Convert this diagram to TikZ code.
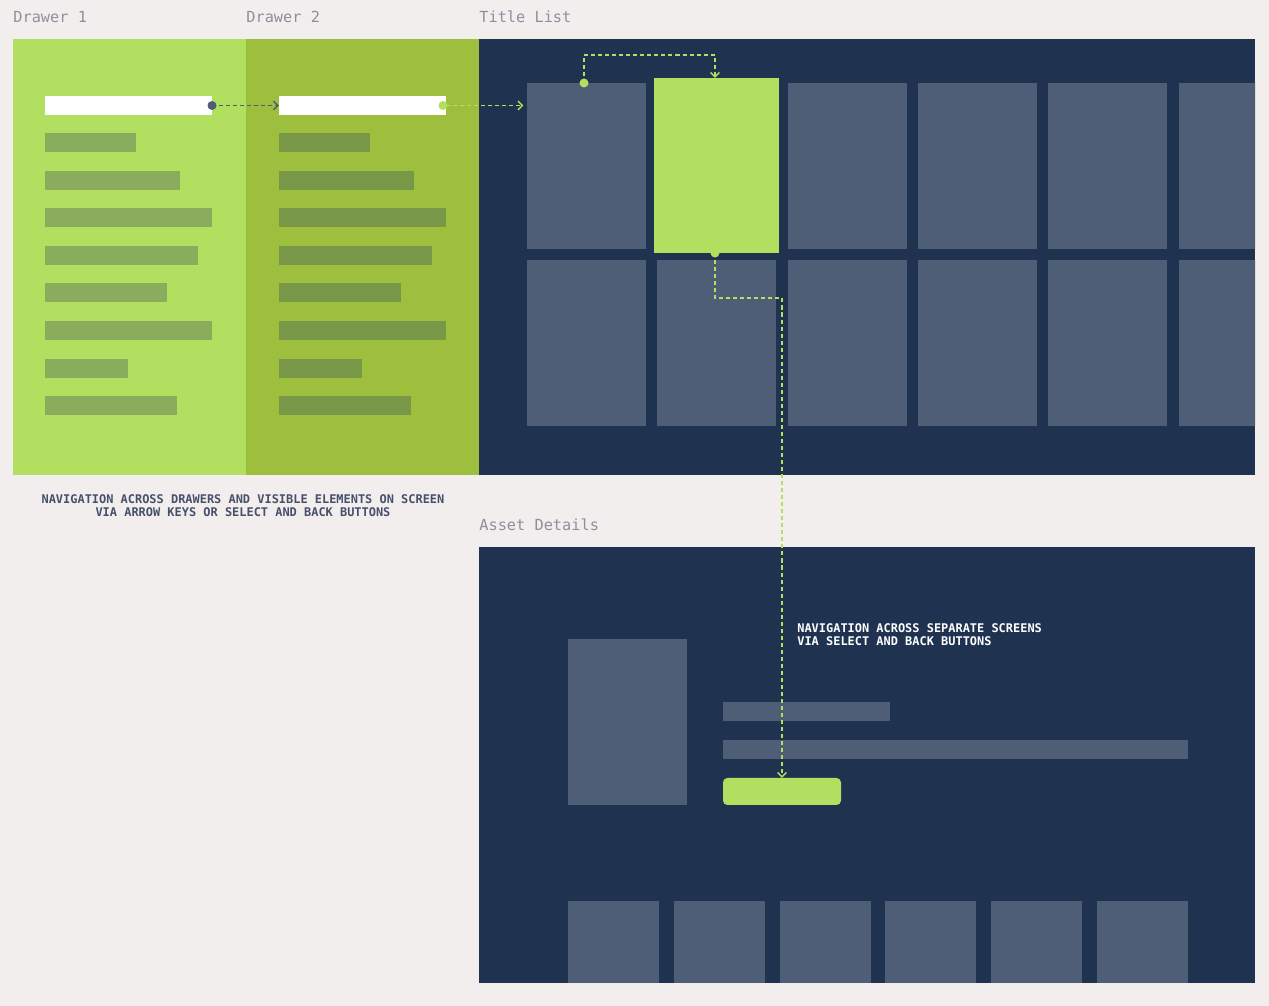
\documentclass[tikz,border=0pt]{standalone}
\usepackage{fontspec}
\setmonofont{DejaVu Sans Mono}
\usetikzlibrary{arrows.meta}
\definecolor{bg}{HTML}{F3EEEE}
\definecolor{lime}{HTML}{B3DF60}
\definecolor{olive}{HTML}{9DBF3D}
\definecolor{navy}{HTML}{1F3351}
\definecolor{slate}{HTML}{4E5E77}
\definecolor{bara}{HTML}{89AD5C}
\definecolor{barb}{HTML}{789747}
\definecolor{labelgray}{HTML}{8F8F9C}
\definecolor{capgray}{HTML}{46506A}
\tikzset{
  box/.style 2 args={draw=none, inner sep=0pt, outer sep=0pt, minimum width=#1*0.02cm, minimum height=#2*0.02cm},
  tile/.style={box={119}{166}, fill=slate},
  bar/.style={box={#1}{19}, anchor=west},
  lbl/.style={font=\ttfamily\fontsize{8.7}{10}\selectfont, text=labelgray, anchor=base west, inner sep=0pt},
  captext/.style={font=\ttfamily\bfseries\fontsize{6.8}{7.4}\selectfont, inner sep=0pt},
  nav/.style={dash pattern=on 2.3pt off 1.7pt, line width=0.8pt, -{Straight Barb[length=2.6pt,width=5pt]}},
  dotsize/.style={radius=0.09cm}
}
\begin{document}
\begin{tikzpicture}[x=0.02cm, y=-0.02cm]
  \fill[bg] (0,0) rectangle (1269,1006);

  % panels
  \node[box={233}{436}, fill=lime] (d1) at (129.5,257) {};
  \node[box={233}{436}, fill=olive] (d2) at (362.5,257) {};
  \node[box={776}{436}, fill=navy] (tl) at (867,257) {};
  \node[box={776}{436}, fill=navy] (ad) at (867,765) {};

  \node[lbl] (ld1) at (13,22.5) {Drawer 1};
  \node[lbl] (ld2) at (246,22.5) {Drawer 2};
  \node[lbl] (ltl) at (479,22.5) {Title List};
  \node[lbl] (lad) at (479,530.5) {Asset Details};

  % drawer entries
  \node[box={167}{19}, fill=white] (w1) at (128.5,105.5) {};
  \node[box={167}{19}, fill=white] (w2) at (362.5,105.5) {};
  \foreach \w [count=\k from 0] in {91,135,167,153,122,167,83,132} {
    \node[bar=\w, fill=bara] (ra\k) at (45,142.5+37.6*\k) {};
    \node[bar=\w, fill=barb] (rb\k) at (279,142.5+37.6*\k) {};
  }

  % title grid
  \begin{scope}
    \clip (tl.north west) rectangle (tl.south east);
    \foreach \i in {0,...,5} {
      \node[tile] (ta\i) at (586.5+130.3*\i,166) {};
      \node[tile] (tb\i) at (586.5+130.3*\i,343.5) {};
    }
  \end{scope}
  \node[box={125}{175}, fill=lime] (sel) at (716.5,165.5) {};

  % asset details
  \node[tile] (poster) at (627.5,722.5) {};
  \node[box={167}{19}, fill=slate] (ia) at (806.5,711.5) {};
  \node[box={465}{19}, fill=slate] (ib) at (955.5,749.5) {};
  \node[box={118}{27}, fill=lime, rounded corners=2.5pt] (btn) at (782,791.5) {};
  \foreach \i in {0,...,5}
    \node[box={91}{82}, fill=slate] (bt\i) at (613.5+105.8*\i,942) {};

  % connectors
  \draw[nav, slate] (w1.east) -- (w2.west);
  \fill[slate] (w1.east) circle[dotsize];
  \draw[nav, lime, shorten >=2pt] (w2.east) -- (w2.east -| ta0.west);
  \fill[lime] ([xshift=-0.06cm]w2.east) circle[dotsize];
  \draw[nav, lime] ([xshift=-0.05cm]ta0.north) -- ++(0,-28) -| ([xshift=-0.03cm]sel.north);
  \fill[lime] ([xshift=-0.05cm]ta0.north) circle[dotsize];
  \draw[nav, lime] ([xshift=-0.03cm]sel.south) -- ++(0,45) -| (btn.north);
  \fill[lime] ([xshift=-0.03cm]sel.south) circle[dotsize];

  \node[captext, text=capgray, align=center, anchor=north] (capa) at (243,494)
    {NAVIGATION ACROSS DRAWERS AND VISIBLE ELEMENTS ON SCREEN\\VIA ARROW KEYS OR SELECT AND BACK BUTTONS};
  \node[captext, text=white, align=left, anchor=north west] (capb) at (797,623)
    {NAVIGATION ACROSS SEPARATE SCREENS\\VIA SELECT AND BACK BUTTONS};
\end{tikzpicture}
\end{document}
